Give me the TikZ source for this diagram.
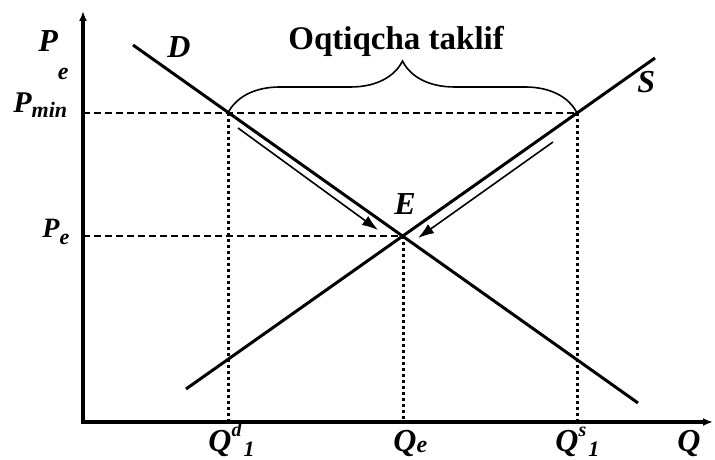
\documentclass[tikz,border=0pt]{standalone}
\usepackage{fontspec}
\setmainfont{Liberation Serif}
\usetikzlibrary{arrows.meta, positioning, decorations.pathreplacing}

\begin{document}
\begin{tikzpicture}[
x=0.5pt, y=0.5pt,
axis/.style={{Latex[length=5pt,width=4pt]}-{Latex[length=5pt,width=4pt]}, line width=2pt},
curve/.style={line width=1.5pt},
level/.style={line width=1pt, dash pattern=on 3.5pt off 2pt},
drop/.style={line width=1.5pt, dash pattern=on 1.5pt off 1.5pt},
move/.style={-{Latex[length=8pt,width=5.5pt]}, line width=0.8pt},
brace/.style={decorate, decoration={brace, amplitude=26pt}, line width=0.8pt},
lbl/.style={font=\fontsize{16}{18}\selectfont\bfseries\itshape, inner sep=0pt, anchor=base west}
]
\useasboundingbox (0,0) rectangle (715,459);

\coordinate (O) at (83,37);
\coordinate (ytop) at (83,448);
\coordinate (xend) at (713,37);
\coordinate (E) at (403,223);
\coordinate (Dtop) at (133,414);
\coordinate (Dbot) at (638,56);
\coordinate (Sbot) at (186,70);
\coordinate (Stop) at (655,401);
\coordinate (Ad) at (228,346);
\coordinate (As) at (577,346);
\coordinate (pmin) at (O |- Ad);
\coordinate (pe) at (O |- E);
\coordinate (qd) at (Ad |- O);
\coordinate (qe) at (E |- O);
\coordinate (qs) at (As |- O);
\coordinate (d0) at (238,331);
\coordinate (d1) at (378,229);
\coordinate (s0) at (553,317);
\coordinate (s1) at (418,221);

% price levels and quantities
\draw[level] (pmin) -- (As);
\draw[level] (pe) -- (E);
\draw[drop] (Ad) -- (qd);
\draw[drop] (E) -- (qe);
\draw[drop] (As) -- (qs);

\draw[axis] (ytop) -- (O) -- (xend);
\draw[curve] (Dtop) -- (Dbot);
\draw[curve] (Sbot) -- (Stop);

\draw[move] (d0) -- (d1);
\draw[move] (s0) -- (s1);

\draw[brace] (Ad) -- (As);
\node[lbl, font=\fontsize{16.5}{18}\selectfont\bfseries] (excess) at (288,409) {Oqtiqcha taklif};

\node[lbl] (plabel) at (38,407) {P\raisebox{-14pt}{\fontsize{12}{12}\selectfont e}};
\node[lbl, font=\fontsize{15}{18}\selectfont\bfseries\itshape] (pminlabel) at (13,346) {P\raisebox{-2.5pt}{\fontsize{11}{11}\selectfont min}};
\node[lbl, font=\fontsize{14}{16}\selectfont\bfseries\itshape] (pelabel) at (42,221) {P\raisebox{-3.5pt}{\fontsize{11}{11}\selectfont e}};
\node[lbl] (dlabel) at (167,401) {D};
\node[lbl] (slabel) at (637,366) {S};
\node[lbl] (elabel) at (394,244) {E};

\node[lbl] (qdlabel) at (208,8) {Q\raisebox{7pt}{\fontsize{10}{10}\selectfont d}\hspace{1pt}\raisebox{-3pt}{\fontsize{11}{11}\selectfont 1}};
\node[lbl] (qelabel) at (393,8) {Q\raisebox{-1pt}{\fontsize{12}{12}\selectfont e}};
\node[lbl] (qslabel) at (555,8) {Q\raisebox{7pt}{\fontsize{10}{10}\selectfont s}\hspace{1pt}\raisebox{-3pt}{\fontsize{11}{11}\selectfont 1}};
\node[lbl] (qlabel) at (677,8) {Q};

\end{tikzpicture}
\end{document}
